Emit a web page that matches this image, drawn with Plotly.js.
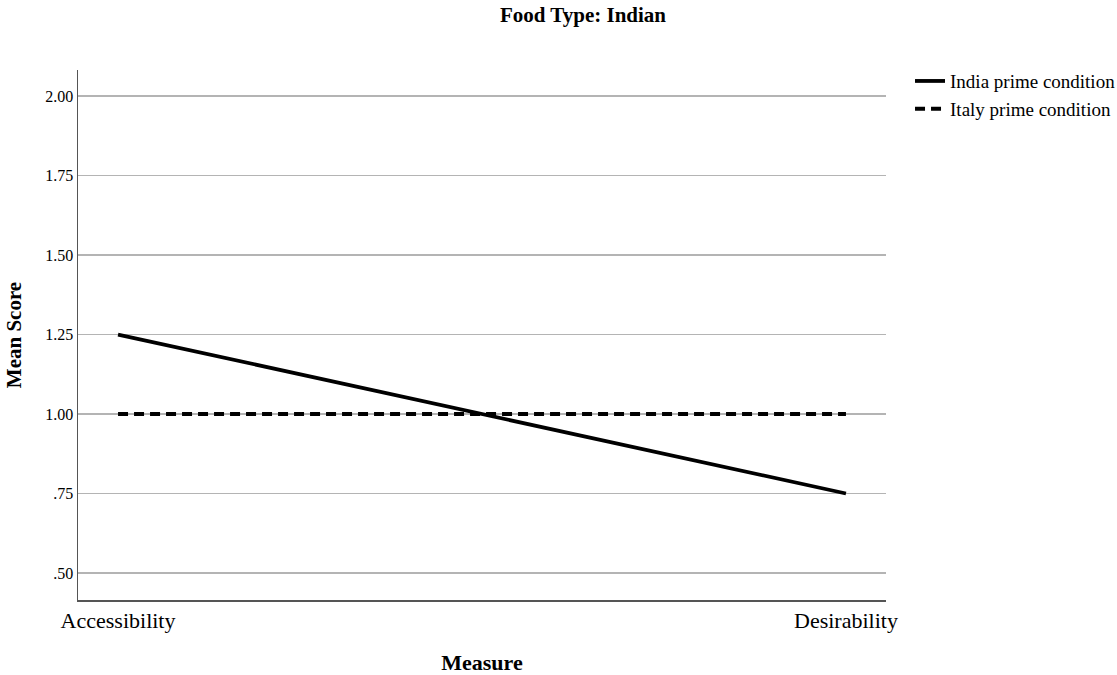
<!DOCTYPE html>
<html><head><meta charset="utf-8">
<script src="https://cdn.plot.ly/plotly-3.0.1.min.js"></script>
<style>html,body{margin:0;padding:0;background:#fff}#chart{width:1117px;height:675px}</style>
</head><body><div id="chart"></div>
<script>
const categories = ["Accessibility", "Desirability"];
const indiaPrime = [1.25, 0.75];
const italyPrime = [1.00, 1.00];
const yTickVals = [0.5, 0.75, 1.0, 1.25, 1.5, 1.75, 2.0];
const yTickText = [".50", ".75", "1.00", "1.25", "1.50", "1.75", "2.00"];

const serif = "Liberation Serif";
const traces = [
  {x: categories, y: indiaPrime, name: "India prime condition", mode: "lines", type: "scatter",
   line: {color: "#000", width: 3.8}},
  {x: categories, y: italyPrime, name: "Italy prime condition", mode: "lines", type: "scatter",
   line: {color: "#000", width: 4, dash: "10px,6px"}}
];
const layout = {
  width: 1117, height: 675,
  margin: {l: 78, r: 231, t: 70, b: 75},
  paper_bgcolor: "#fff", plot_bgcolor: "#fff",
  font: {family: serif, color: "#000"},
  title: {text: "<b>Food Type: Indian</b>", font: {family: serif, size: 21, color: "#000"},
          x: 0.625, xref: "paper", xanchor: "center", y: 0.979, yanchor: "middle"},
  xaxis: {type: "category", range: [-0.055, 1.055], showgrid: false, zeroline: false,
          showline: true, linecolor: "#555", linewidth: 1.5, ticks: "",
          tickfont: {family: serif, size: 22, color: "#000"},
          title: {text: "<b>Measure</b>", font: {family: serif, size: 22, color: "#000"}, standoff: 24}},
  yaxis: {range: [0.415, 2.082], tickvals: yTickVals, ticktext: yTickText,
          showgrid: true, gridcolor: "#b4b4b4", gridwidth: 1.2, zeroline: false,
          showline: true, linecolor: "#555", linewidth: 1.5, ticks: "",
          tickfont: {family: serif, size: 16, color: "#000"},
          title: {text: "<b>Mean Score</b>", font: {family: serif, size: 21, color: "#000"}, standoff: 18}},
  legend: {xref: "container", yref: "container", x: 0.8147, xanchor: "left", y: 0.908, yanchor: "top",
           font: {family: serif, size: 19, color: "#000"},
           tracegroupgap: 0, itemwidth: 30, bgcolor: "rgba(0,0,0,0)"},
  showlegend: true
};
Plotly.newPlot("chart", traces, layout, {displayModeBar: false, staticPlot: true});
</script></body></html>
